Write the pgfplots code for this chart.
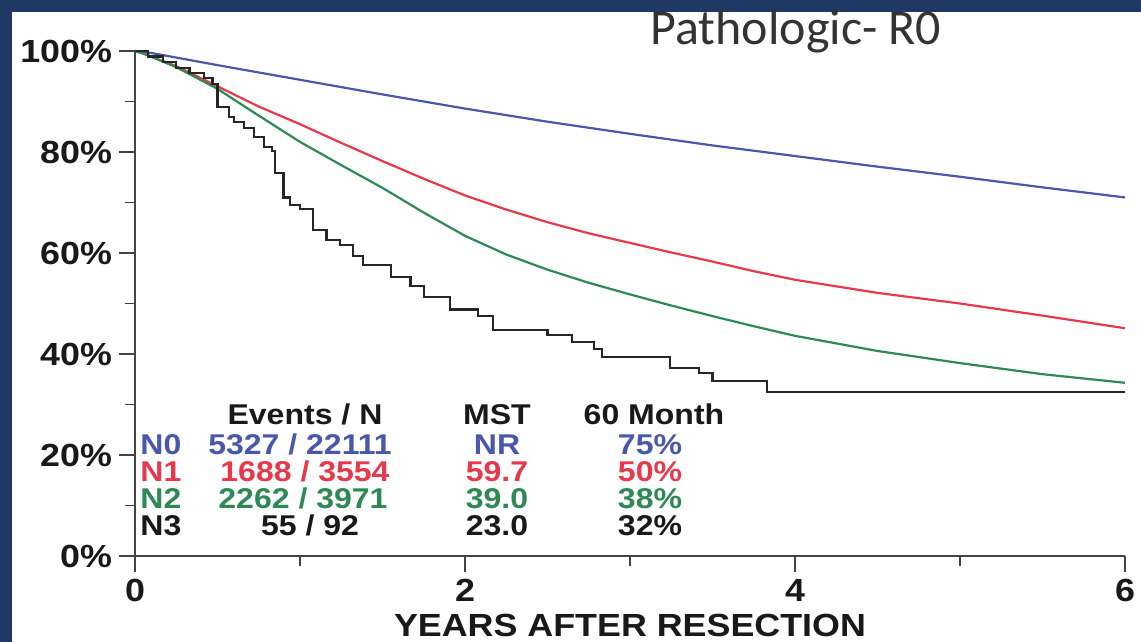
\documentclass[border=0pt]{standalone}
\usepackage{pgfplots}
\pgfplotsset{compat=1.18}
\usepackage{fontspec}
\setmainfont{Liberation Sans}
\newfontfamily\chartfont{Liberation Sans}[FakeStretch=1.12]
\newfontfamily\titlefont{Carlito}
\definecolor{navy}{HTML}{1F3864}
\definecolor{cN0}{HTML}{4A58AC}
\definecolor{cN1}{HTML}{E63A4C}
\definecolor{cN2}{HTML}{2E8A55}
\definecolor{cN3}{HTML}{262626}
\definecolor{axgray}{HTML}{444444}

\pgfplotstableread{
t S
0 100
0.1 99.6
0.5 97.2
1 94.3
1.5 91.4
2 88.6
2.5 86
3 83.6
3.5 81.3
4 79.2
4.5 77.1
5 75.1
5.5 73
6 71
}\nzero
\pgfplotstableread{
t S
0 100
0.05 99.5
0.25 97
0.5 93
0.75 89
1 85.5
1.25 81.8
1.5 78.2
1.75 74.7
2 71.4
2.25 68.6
2.5 66.1
2.75 63.9
3 62
3.25 60.1
3.5 58.3
3.75 56.4
4 54.7
4.5 52.1
5 50
5.5 47.6
6 45.1
}\none
\pgfplotstableread{
t S
0 100
0.05 99.5
0.25 96.8
0.5 92.5
0.75 87.2
1 82
1.25 77.4
1.5 72.9
1.75 68.0
2 63.4
2.25 59.7
2.5 56.7
2.75 54.1
3 51.8
3.25 49.6
3.5 47.5
3.75 45.5
4 43.6
4.5 40.6
5 38.2
5.5 36
6 34.3
}\ntwo
\pgfplotstableread{
t S
0 100
0.08 98.9
0.17 97.8
0.25 96.7
0.33 95.6
0.42 94.6
0.47 93.5
0.50 88.9
0.57 87.0
0.60 85.9
0.66 84.8
0.72 83.0
0.78 81.0
0.83 80.2
0.85 75.8
0.90 71.0
0.94 69.5
1.00 68.7
1.08 64.6
1.16 62.6
1.24 61.6
1.32 59.4
1.38 57.6
1.55 55.2
1.67 53.5
1.75 51.3
1.91 48.8
2.08 47.5
2.17 44.8
2.50 43.8
2.65 42.4
2.78 41.0
2.83 39.4
3.24 37.2
3.42 36.2
3.50 34.6
3.83 32.5
6.00 32.5
}\nthree

\begin{document}
\begin{tikzpicture}[x=0.5pt,y=-0.5pt]
\path[use as bounding box] (0,0) rectangle (1141,642);
\fill[navy] (0,0) rectangle (1141,642);
\fill[white] (12,12) rectangle (1141,642);
\begin{axis}[
  at={(67.5pt,-278pt)}, anchor=south west,
  scale only axis, width=495pt, height=252.5pt,
  xmin=0, xmax=6, ymin=0, ymax=100,
  axis x line*=bottom, axis y line*=left,
  axis line style={-, line width=0.9pt, axgray},
  xtick={0,2,4,6}, minor xtick={1,3,5},
  ytick={0,20,40,60,80,100}, minor ytick={10,30,50,70,90},
  yticklabel={\pgfmathprintnumber{\tick}\%},
  /pgf/number format/assume math mode=true,
  tick align=outside,
  major tick length=8pt, minor tick length=5pt,
  tick style={line width=0.9pt, axgray},
  tick label style={font=\chartfont\bfseries\fontsize{16}{16}\selectfont, text=black!90},
  clip=false,
]
\addplot[cN0, line width=1.1pt] table[x=t,y=S] {\nzero};
\addplot[cN1, line width=1.1pt] table[x=t,y=S] {\none};
\addplot[cN2, line width=1.1pt] table[x=t,y=S] {\ntwo};
\addplot[cN3, line width=1.1pt, const plot] table[x=t,y=S] {\nthree};
\end{axis}
\node[anchor=base, font=\titlefont\fontsize{25}{25}\selectfont, text=black!80] at (796,45) {Pathologic- R0};
\node[anchor=base, font=\chartfont\bfseries\fontsize{16}{16}\selectfont, text=black!90] at (630,636) {YEARS AFTER RESECTION};
\begin{scope}[every node/.style={font=\chartfont\bfseries\fontsize{14.3}{14.3}\selectfont, inner sep=0pt}]
\node[anchor=base, text=black!90] at (305,424) {Events / N};
\node[anchor=base, text=black!90] at (497,424) {MST};
\node[anchor=base, text=black!90] at (654,424) {60 Month};
\node[anchor=base west, text=cN0] at (140,454) {N0};
\node[anchor=base, text=cN0] at (300,454) {5327 / 22111};
\node[anchor=base, text=cN0] at (497,454) {NR};
\node[anchor=base, text=cN0] at (650,454) {75\%};
\node[anchor=base west, text=cN1] at (140,481) {N1};
\node[anchor=base, text=cN1] at (305,481) {1688 / 3554};
\node[anchor=base, text=cN1] at (497,481) {59.7};
\node[anchor=base, text=cN1] at (650,481) {50\%};
\node[anchor=base west, text=cN2] at (140,508) {N2};
\node[anchor=base, text=cN2] at (303,508) {2262 / 3971};
\node[anchor=base, text=cN2] at (497,508) {39.0};
\node[anchor=base, text=cN2] at (650,508) {38\%};
\node[anchor=base west, text=black!90] at (140,535) {N3};
\node[anchor=base, text=black!90] at (310,535) {55 / 92};
\node[anchor=base, text=black!90] at (497,535) {23.0};
\node[anchor=base, text=black!90] at (650,535) {32\%};
\end{scope}
\end{tikzpicture}
\end{document}
